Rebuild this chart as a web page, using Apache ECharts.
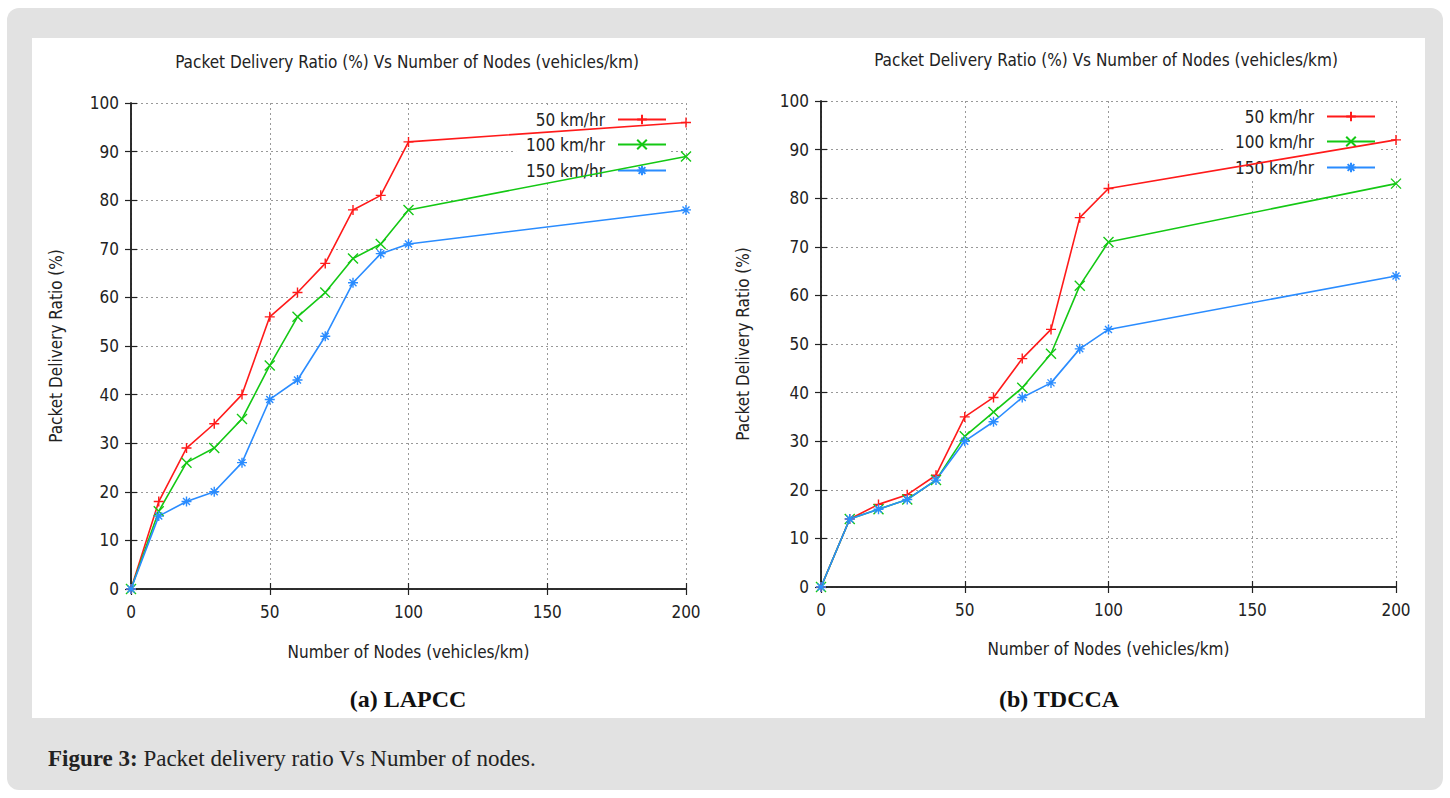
<!DOCTYPE html>
<html>
<head>
<meta charset="utf-8">
<script src="https://cdn.jsdelivr.net/npm/echarts@6/dist/echarts.min.js"></script>
<style>
	body{margin:0;background:#fff;}
	.frame{position:absolute;left:7px;top:8px;width:1436px;height:782px;background:#e2e2e2;border-radius:12px;}
	.panel{position:absolute;left:32px;top:38px;width:1393px;height:680px;background:#fff;}
	.caption{position:absolute;left:48px;top:746px;font:23px "Liberation Serif",serif;color:#222;}
	#chart{position:absolute;left:0;top:0;width:1450px;height:798px;}
</style>
</head>
<body>
<div class="frame"></div>
<div class="panel"></div>
<div class="caption"><b>Figure 3:</b> Packet delivery ratio Vs Number of nodes.</div>
<div id="chart"></div>
<script>
// nodes (vehicles/km)
var nodes = [0, 10, 20, 30, 40, 50, 60, 70, 80, 90, 100, 200];
var speeds = ['50 km/hr', '100 km/hr', '150 km/hr'];

// (a) LAPCC
var lapcc50 = [0, 18, 29, 34, 40, 56, 61, 67, 78, 81, 92, 96];
var lapcc100 = [0, 16, 26, 29, 35, 46, 56, 61, 68, 71, 78, 89];
var lapcc150 = [0, 15, 18, 20, 26, 39, 43, 52, 63, 69, 71, 78];

// (b) TDCCA
var tdcca50 = [0, 14, 17, 19, 23, 35, 39, 47, 53, 76, 82, 92];
var tdcca100 = [0, 14, 16, 18, 22, 31, 36, 41, 48, 62, 71, 83];
var tdcca150 = [0, 14, 16, 18, 22, 30, 34, 39, 42, 49, 53, 64];

var chartTitle = 'Packet Delivery Ratio (%) Vs Number of Nodes (vehicles/km)';
var xName = 'Number of Nodes (vehicles/km)';
var yName = 'Packet Delivery Ratio (%)';

var colors = ['#ff1a1a', '#14c814', '#2a8cff'];
var symbols = [
	'path://M0,5L10,5M5,0L5,10',
	'path://M0,0L10,10M0,10L10,0',
	'path://M0,5L10,5M5,0L5,10M1.5,1.5L8.5,8.5M1.5,8.5L8.5,1.5'
];
var font = '"Liberation Sans Narrow","DejaVu Sans Condensed",sans-serif';

function pairs(ys){
	return nodes.map(function(x, i){ return [x, ys[i]]; });
}

function extend(a, b){
	var o = {};
	for(var k in b){ o[k] = b[k]; }
	for(var k2 in a){ o[k2] = a[k2]; }
	return o;
}

function makeSeries(idx, list){
	return list.map(function(ys, i){
		return {
			name: speeds[i],
			type: 'line',
			xAxisIndex: idx * 2,
			yAxisIndex: idx * 2,
			data: pairs(ys),
			symbol: symbols[i],
			symbolSize: 10,
			z: 3,
			lineStyle: { color: colors[i], width: 1.6 },
			itemStyle: { color: colors[i], borderColor: colors[i], borderWidth: 1.4 }
		};
	});
}

function makeAxes(idx, gap){
	var line = { show: true, lineStyle: { color: '#222', width: 1.5 } };
	var tick = { show: true, inside: true, length: 6, lineStyle: { color: '#222', width: 1.2 } };
	var label = { color: '#222', fontSize: 17, fontFamily: font };
	var grid = { show: true, lineStyle: { color: '#999', type: [2, 3], width: 1 } };
	var x = [
		{
			type: 'value', gridIndex: idx, min: 0, max: 200, interval: 50,
			name: xName, nameLocation: 'middle', nameGap: gap.x,
			nameTextStyle: { color: '#222', fontSize: 17, fontFamily: font },
			axisLine: line, axisTick: tick, axisLabel: extend({ margin: 14 }, label),
			splitLine: grid
		},
		{
			type: 'value', gridIndex: idx, position: 'top', min: 0, max: 200, interval: 50,
			axisLine: line, axisTick: tick, axisLabel: { show: false }, splitLine: { show: false }
		}
	];
	var y = [
		{
			type: 'value', gridIndex: idx, min: 0, max: 100, interval: 10,
			name: yName, nameLocation: 'middle', nameGap: gap.y,
			nameTextStyle: { color: '#222', fontSize: 17, fontFamily: font },
			axisLine: line, axisTick: tick, axisLabel: extend({ margin: 12 }, label),
			splitLine: grid
		},
		{
			type: 'value', gridIndex: idx, position: 'right', min: 0, max: 100, interval: 10,
			axisLine: line, axisTick: tick, axisLabel: { show: false }, splitLine: { show: false }
		}
	];
	return { x: x, y: y };
}

function makeLegends(rightPx, tops){
	return speeds.map(function(name, i){
		return {
			data: [name],
			right: rightPx,
			top: tops[i],
			orient: 'vertical',
			align: 'right',
			itemWidth: 48,
			itemHeight: 12,
			padding: [4, 2, 4, 10],
			backgroundColor: '#fff',
			z: 1,
			selectedMode: false,
			textStyle: { color: '#222', fontSize: 17, fontFamily: font, padding: [0, 8, 0, 0] }
		};
	});
}

var axA = makeAxes(0, { x: 54, y: 67 });
var axB = makeAxes(1, { x: 53, y: 70 });

var myChart = echarts.init(document.getElementById('chart'), null, { renderer: 'svg' });
var option = {
	animation: false,
	grid: [
		{ left: 131, top: 103, width: 555, height: 486 },
		{ left: 821, top: 101, width: 575, height: 486 }
	],
	xAxis: axA.x.concat(axB.x),
	yAxis: axA.y.concat(axB.y),
	legend: makeLegends(1450 - 669, [107, 132, 158]).concat(makeLegends(1450 - 1378, [104, 129, 155])),
	series: makeSeries(0, [lapcc50, lapcc100, lapcc150]).concat(makeSeries(1, [tdcca50, tdcca100, tdcca150])),
	graphic: [
		{ type: 'text', x: 407, y: 62, style: { text: chartTitle, fill: '#222', font: '17px ' + font, align: 'center', verticalAlign: 'middle' } },
		{ type: 'text', x: 1106, y: 60, style: { text: chartTitle, fill: '#222', font: '17px ' + font, align: 'center', verticalAlign: 'middle' } },
		{ type: 'text', x: 408, y: 699, style: { text: '(a) LAPCC', fill: '#111', font: 'bold 24px "Liberation Serif",serif', align: 'center', verticalAlign: 'middle' } },
		{ type: 'text', x: 1059, y: 699, style: { text: '(b) TDCCA', fill: '#111', font: 'bold 24px "Liberation Serif",serif', align: 'center', verticalAlign: 'middle' } }
	]
};
myChart.setOption(option);
</script>
</body>
</html>
